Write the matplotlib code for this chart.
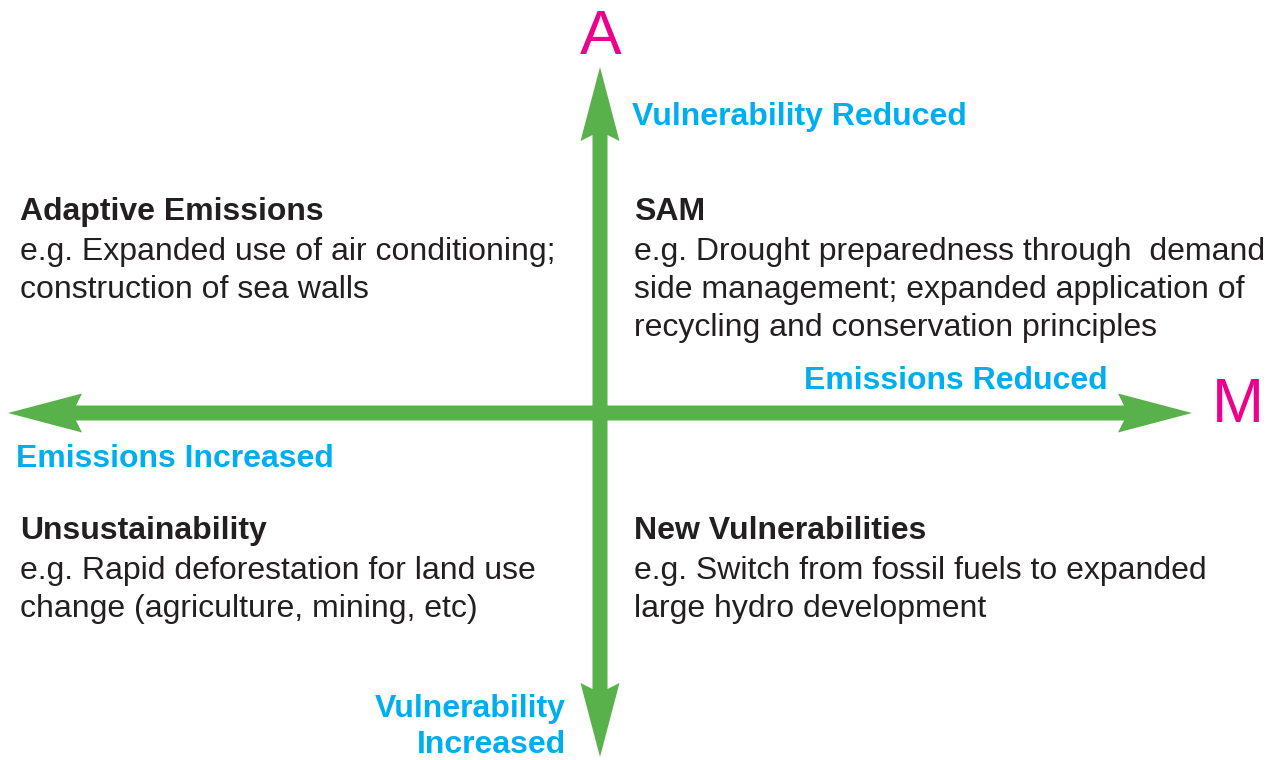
import numpy as np
import matplotlib.pyplot as plt

# Text content of the four quadrants
quad_titles = ['Adaptive Emissions', 'SAM', 'Unsustainability', 'New Vulnerabilities']
quad_lines = [
    ['e.g. Expanded use of air conditioning;', 'construction of sea walls'],
    ['e.g. Drought preparedness through  demand', 'side management; expanded application of',
     'recycling and conservation principles'],
    ['e.g. Rapid deforestation for land use', 'change (agriculture, mining, etc)'],
    ['e.g. Switch from fossil fuels to expanded', 'large hydro development'],
]
axis_labels = ['Vulnerability Reduced', 'Emissions Reduced', 'Emissions Increased',
               'Vulnerability\nIncreased']
axis_letters = ['A', 'M']

GREEN = '#58B14A'
CYAN = '#00AEEF'
MAGENTA = '#EC008C'
DARK = '#231F20'
FONT = 'Liberation Sans'

fig = plt.figure(figsize=(12.68, 7.6), dpi=100)
ax = fig.add_axes([0, 0, 1, 1])
ax.set_xlim(0, 1268)
ax.set_ylim(760, 0)
ax.axis('off')


def double_arrow(p0, p1, shaft=15, head_w=39, head_l=74, notch=6):
    p0, p1 = np.array(p0, float), np.array(p1, float)
    d = (p1 - p0) / np.linalg.norm(p1 - p0)
    n = np.array([-d[1], d[0]])
    pts = []
    # tip at p1
    b1 = p1 - d * head_l
    pts += [b1 + d * notch + n * shaft / 2, b1 + n * head_w / 2, p1,
            b1 - n * head_w / 2, b1 + d * notch - n * shaft / 2]
    b0 = p0 + d * head_l
    pts += [b0 - d * notch - n * shaft / 2, b0 - n * head_w / 2, p0,
            b0 + n * head_w / 2, b0 - d * notch + n * shaft / 2]
    pts = np.array(pts)
    ax.fill(pts[:, 0], pts[:, 1], color=GREEN, lw=0)


double_arrow((8, 413), (1192, 413))
double_arrow((600, 757), (600, 67))

# axis letters
ax.text(601, 37, axis_letters[0], color=MAGENTA, fontsize=45, family=FONT,
        ha='center', va='center')
ax.text(1238, 406, axis_letters[1], color=MAGENTA, fontsize=45, family=FONT,
        ha='center', va='center')

# axis labels
lab_kw = dict(color=CYAN, fontsize=23, family=FONT, fontweight='bold')
ax.text(632, 117, axis_labels[0], ha='left', va='center', **lab_kw)
ax.text(1108, 381, axis_labels[1], ha='right', va='center', **lab_kw)
ax.text(16, 459, axis_labels[2], ha='left', va='center', **lab_kw)
ax.text(566, 727, axis_labels[3], ha='right', va='center', linespacing=1.28, **lab_kw)

# quadrant text
anchors = [(20, 212), (634, 212), (20, 531), (634, 531)]
for (x, y), title, lines in zip(anchors, quad_titles, quad_lines):
    ax.text(x, y, title, color=DARK, fontsize=23, family=FONT, fontweight='bold',
            ha='left', va='center')
    for i, line in enumerate(lines):
        ax.text(x, y + 40 + i * 38, line, color=DARK, fontsize=23, family=FONT,
                ha='left', va='center')

fig.savefig('out.png', dpi=100)
